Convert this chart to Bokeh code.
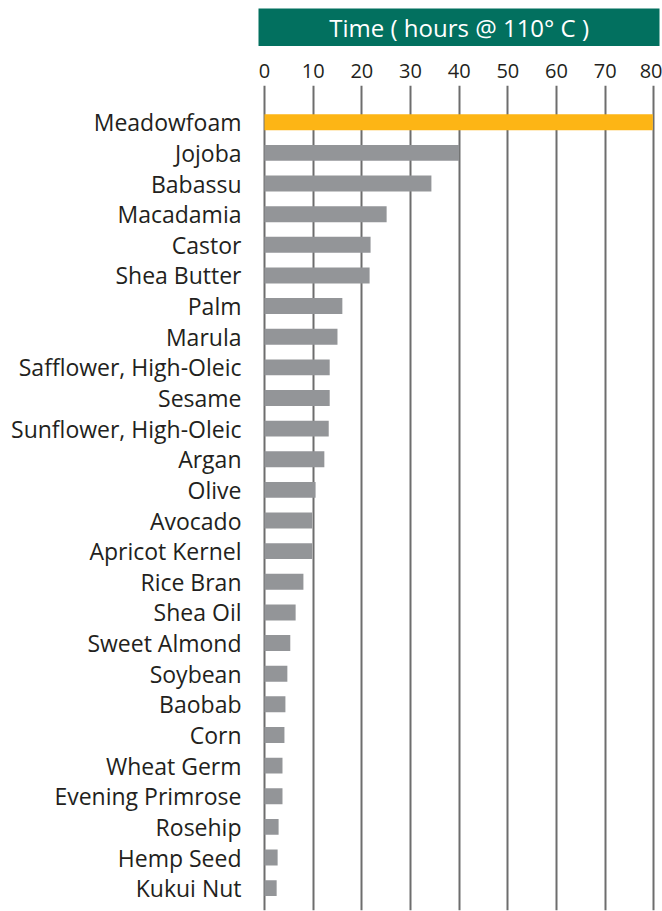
from bokeh.plotting import figure
from bokeh.models import Range1d, FixedTicker, ColumnDataSource
from bokeh.layouts import column
from bokeh.core.properties import value
from bokeh.embed import file_html
from bokeh.resources import INLINE

oils = ["Meadowfoam", "Jojoba", "Babassu", "Macadamia", "Castor", "Shea Butter",
        "Palm", "Marula", "Safflower, High-Oleic", "Sesame", "Sunflower, High-Oleic",
        "Argan", "Olive", "Avocado", "Apricot Kernel", "Rice Bran", "Shea Oil",
        "Sweet Almond", "Soybean", "Baobab", "Corn", "Wheat Germ", "Evening Primrose",
        "Rosehip", "Hemp Seed", "Kukui Nut"]
hours = [79.8, 40.0, 34.3, 25.1, 21.8, 21.6,
         16.0, 15.0, 13.4, 13.4, 13.2,
         12.3, 10.5, 9.8, 9.8, 8.0, 6.4,
         5.3, 4.7, 4.3, 4.1, 3.7, 3.7,
         2.9, 2.7, 2.5]
x_ticks = [0, 10, 20, 30, 40, 50, 60, 70, 80]
header_text = "Time ( hours @ 110° C )"

FONT = "Open Sans"
W = 662
BL = 258   # left border (frame left)
BR = 3     # right border

colors = ["#FDB515" if i == 0 else "#939598" for i in range(len(oils))]
ypos = list(range(len(oils)))
src = ColumnDataSource(dict(y=ypos, right=hours, color=colors))

xr = Range1d(-1.23, 81.17)

# header band: a small figure whose frame is the green box
h = figure(width=W, height=46, x_range=xr, y_range=Range1d(0, 1),
           output_backend="svg", toolbar_location=None,
           min_border_left=BL, min_border_right=BR, min_border_top=8, min_border_bottom=0,
           background_fill_color="#02705F", border_fill_color="white")
h.axis.visible = False
h.grid.visible = False
h.outline_line_color = None
h.text(x=[40], y=[0.5], text=[header_text], text_font=value(FONT), text_font_size="24px",
       text_color="white", text_align="center", text_baseline="middle")

# main chart
p = figure(width=W, height=865, x_range=xr, y_range=Range1d(25.73, -1.2),
           output_backend="svg", toolbar_location=None, x_axis_location="above",
           min_border_left=BL, min_border_right=BR, min_border_top=39, min_border_bottom=1)
p.outline_line_color = None
p.hbar(y="y", left=0, right="right", height=0.52, fill_color="color", line_color=None, source=src)

p.xaxis.ticker = FixedTicker(ticks=x_ticks)
p.xaxis.axis_line_color = None
p.xaxis.major_tick_line_color = None
p.xaxis.major_tick_out = 0
p.xaxis.major_tick_in = 0
p.xaxis.minor_tick_line_color = None
p.xaxis.major_label_text_font = FONT
p.xaxis.major_label_text_font_size = "20px"
p.xaxis.major_label_text_color = "#231f20"
p.xaxis.major_label_standoff = 8

p.yaxis.ticker = FixedTicker(ticks=ypos)
p.yaxis.major_label_overrides = {i: n for i, n in enumerate(oils)}
p.yaxis.axis_line_color = None
p.yaxis.major_tick_line_color = None
p.yaxis.major_tick_out = 0
p.yaxis.major_tick_in = 0
p.yaxis.minor_tick_line_color = None
p.yaxis.major_label_text_font = FONT
p.yaxis.major_label_text_font_size = "23px"
p.yaxis.major_label_text_color = "#231f20"
p.yaxis.major_label_standoff = 17

p.ygrid.visible = False
p.xgrid.ticker = FixedTicker(ticks=x_ticks)
p.xgrid.grid_line_color = "#6d6d6d"
p.xgrid.grid_line_width = 2

layout = column(h, p, spacing=0)
open("out.html", "w").write(file_html(layout, INLINE))
